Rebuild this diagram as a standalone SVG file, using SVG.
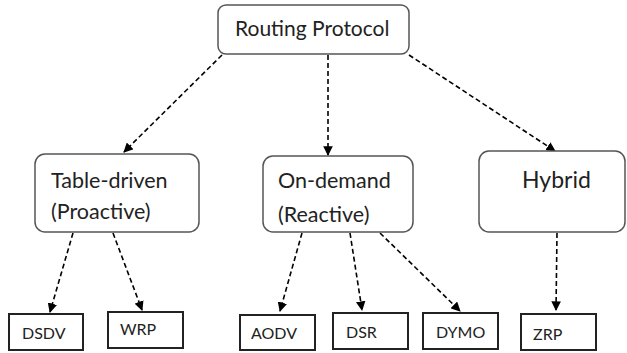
<svg xmlns="http://www.w3.org/2000/svg" width="627" height="353" viewBox="0 0 627 353">
<style>
.rbox{fill:#fff;stroke:#555;stroke-width:1.5}
.sbox{fill:#fff;stroke:#222;stroke-width:2}
.t{font-family:Lato,"Liberation Sans",sans-serif;fill:#222}
.e{fill:none;stroke:#000;stroke-width:1.6;stroke-dasharray:5,3;marker-end:url(#ah)}
</style>
<defs>
<marker id="ah" viewBox="0 0 10 10" refX="9" refY="5" markerWidth="6" markerHeight="6" orient="auto" markerUnits="strokeWidth">
<path d="M0,0 L10,5 L0,10 z" fill="#000"/>
</marker>
</defs>
<g id="connectors">
<path class="e" d="M222,55 L124,152"/>
<path class="e" d="M328,55 L328,155"/>
<path class="e" d="M409,55 L555,151"/>
<path class="e" d="M73,233 L50,312"/>
<path class="e" d="M113,233 L142,310"/>
<path class="e" d="M302,233 L280,311"/>
<path class="e" d="M350,233 L362,310"/>
<path class="e" d="M380,233 L460,311"/>
<path class="e" d="M557,233 L556,310"/>
</g>
<g id="routing">
<rect class="rbox" x="218" y="5" width="191" height="49" rx="8"/>
<text class="t" x="235" y="36" font-size="21">Routing Protocol</text>
</g>
<g id="tabledriven">
<rect class="rbox" x="35" y="154" width="164" height="78" rx="10"/>
<text class="t" x="51" y="188" font-size="21.5">Table-driven</text>
<text class="t" x="51" y="219" font-size="21.5">(Proactive)</text>
</g>
<g id="ondemand">
<rect class="rbox" x="263" y="156" width="150" height="76" rx="10"/>
<text class="t" x="278" y="188" font-size="21.5">On-demand</text>
<text class="t" x="278" y="222" font-size="21.5">(Reactive)</text>
</g>
<g id="hybrid">
<rect class="rbox" x="479" y="151" width="146" height="81" rx="10"/>
<text class="t" x="522" y="188" font-size="23">Hybrid</text>
</g>
<g id="dsdv">
<rect class="sbox" x="9" y="314" width="74" height="36"/>
<text class="t" x="22" y="339" font-size="16">DSDV</text>
</g>
<g id="wrp">
<rect class="sbox" x="108" y="312" width="75" height="36"/>
<text class="t" x="120" y="335" font-size="16">WRP</text>
</g>
<g id="aodv">
<rect class="sbox" x="240" y="315" width="75" height="35"/>
<text class="t" x="251" y="339" font-size="16">AODV</text>
</g>
<g id="dsr">
<rect class="sbox" x="333" y="313" width="75" height="36"/>
<text class="t" x="346" y="338" font-size="16">DSR</text>
</g>
<g id="dymo">
<rect class="sbox" x="423" y="313" width="75" height="36"/>
<text class="t" x="436" y="338" font-size="16">DYMO</text>
</g>
<g id="zrp">
<rect class="sbox" x="521" y="314" width="75" height="36"/>
<text class="t" x="533" y="340" font-size="16">ZRP</text>
</g>
</svg>
